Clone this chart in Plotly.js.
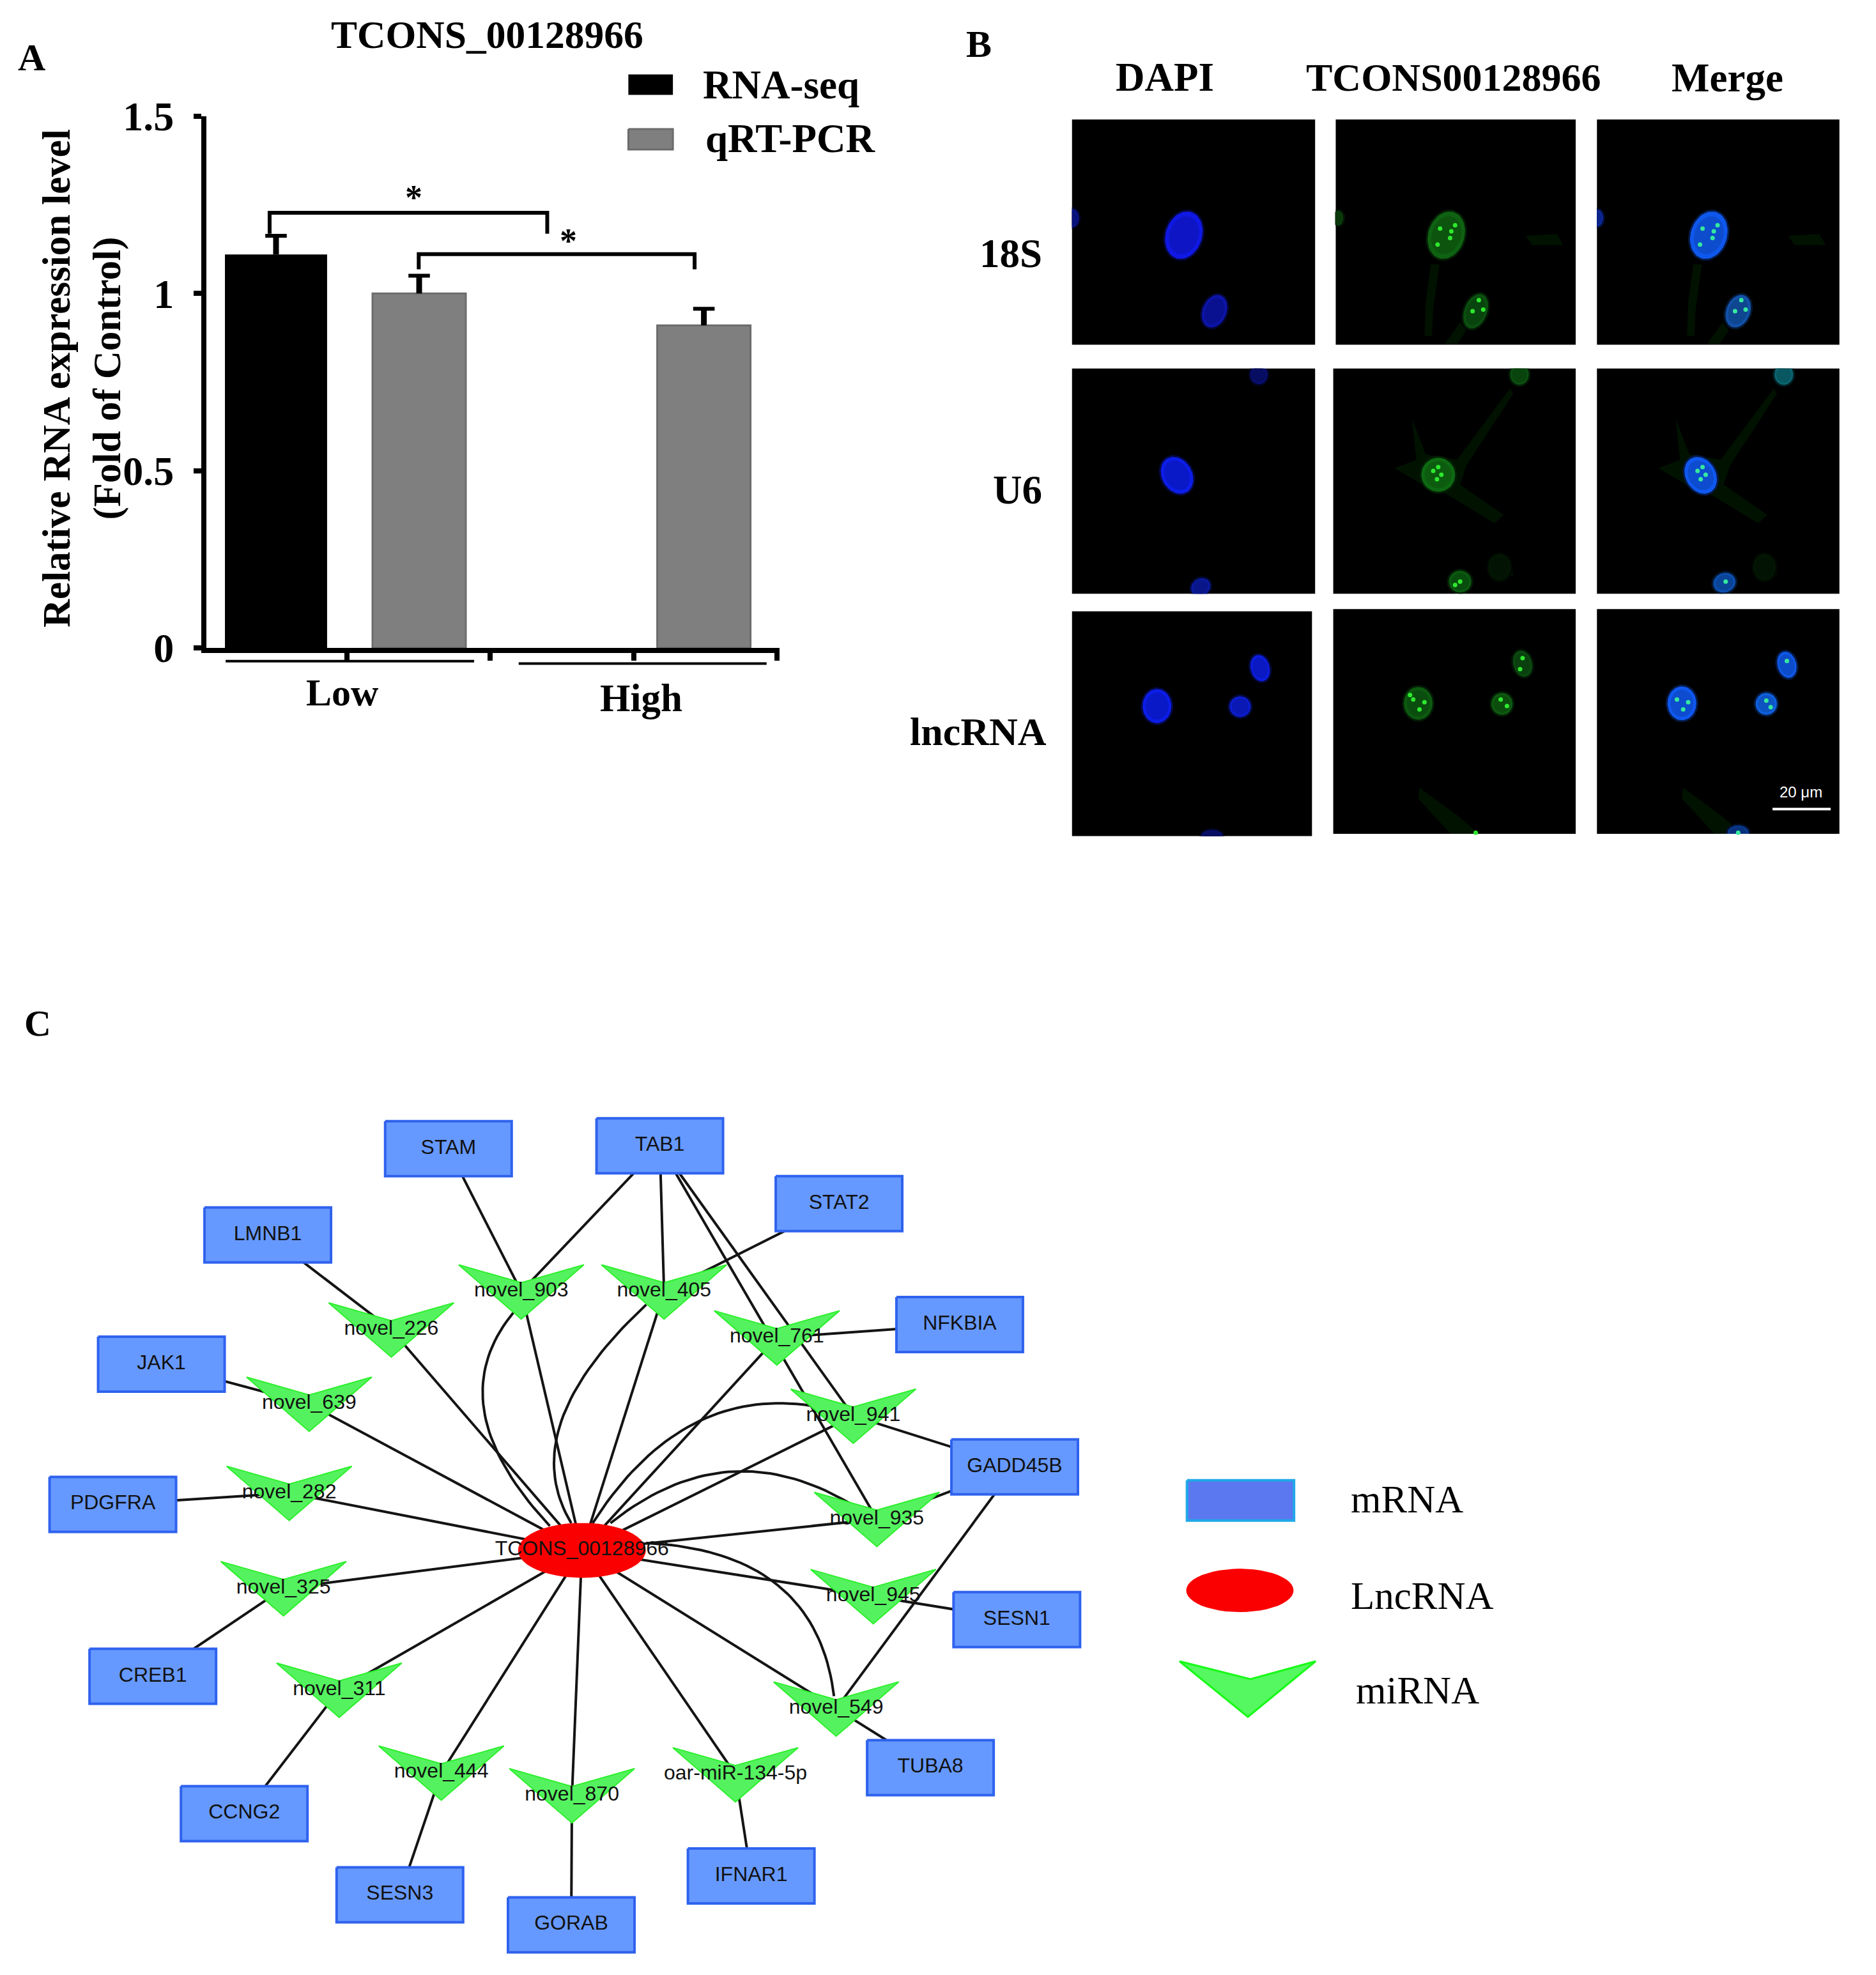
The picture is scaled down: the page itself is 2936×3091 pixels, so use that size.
<!DOCTYPE html>
<html><head><meta charset="utf-8">
<script src="https://cdn.plot.ly/plotly-3.0.1.min.js"></script>
<style>html,body{margin:0;padding:0;background:#fff}</style></head>
<body><div id="chart" style="width:2936px;height:3091px"></div>
<script>
const W=2936,H=3091;
// Panel A data
const groups=["Low","High"];
const rnaSeqValues=[1.11];
const rnaSeqErrors=[0.053];
const qpcrValues=[1.0,0.91];
const qpcrErrors=[0.05,0.047];
const yTickVals=[0,0.5,1,1.5];
const yTickText=["0","0.5","1","1.5"];
// Panel C data
const mrnaNames=["STAM","TAB1","STAT2","LMNB1","NFKBIA","JAK1","GADD45B","PDGFRA","SESN1","CREB1","TUBA8","CCNG2","IFNAR1","SESN3","GORAB"];
const mrnaX=[628,924,1175,375,1344,226,1421,158,1424,214,1303,342,1052,560,800];
const mrnaY=[110,105,207,262,420,490,671,737,940,1040,1201,1282,1392,1425,1478];
const mirnaNames=["novel_903","novel_405","novel_226","novel_761","novel_639","novel_941","novel_282","novel_935","novel_325","novel_945","novel_311","novel_549","novel_444","novel_870","oar-miR-134-5p"];
const mirnaX=[730,930,548,1088,433,1195,405,1228,397,1223,475,1171,618,801,1030];
const mirnaY=[362,362,429,443,560,581,717,763,885,899,1064,1097,1210,1250,1213];
const lncName="TCONS_00128966";
const lncX=[815],lncY=[818];
const edgeMi=["novel_226","novel_903","novel_903","novel_405","novel_405","novel_941","novel_935","novel_761","novel_639","novel_941","novel_935","novel_282","novel_945","novel_325","novel_549","novel_549","novel_311","novel_444","novel_870","oar-miR-134-5p"];
const edgeM=["LMNB1","STAM","TAB1","TAB1","STAT2","TAB1","TAB1","NFKBIA","JAK1","GADD45B","GADD45B","PDGFRA","SESN1","CREB1","GADD45B","TUBA8","CCNG2","SESN3","GORAB","IFNAR1"];
const curvedMi=["novel_903","novel_405","novel_941","novel_935","novel_549"];
const curveStartX=[770,800,830,855,905],curveStartY=[775,770,770,770,805];
const curveCtrlX=[608,720,962,1017,1143],curveCtrlY=[557,602,510,607,820];
const curveEndX=[725,905,1165,1190,1168],curveEndY=[390,385,570,735,1075];
// Panel B contents
const panels=[[284,673,217,626],[706,1090,217,626],[1124,1512,217,626],[284,673,669,1078],[702,1090,669,1078],[1124,1512,669,1078],[284,668,1110,1518],[702,1090,1106,1514],[1124,1512,1106,1514]];
const cellBodies=[
 [[858,480],[872,480],[862,560],[860,610],[848,610],[850,550]],
 [[905,585],[915,600],[900,625],[880,625]],
 [[705,385],[722,390],[716,410],[705,408]],
 [[1010,428],[1060,425],[1070,445],[1020,445]],
 [[1278,480],[1292,480],[1282,560],[1280,610],[1268,610],[1270,550]],
 [[1325,585],[1335,600],[1320,625],[1300,625]],
 [[1430,428],[1480,425],[1490,445],[1440,445]],
 [[800,850],[835,835],[828,760],[850,825],[900,835],[985,705],[990,715],[915,845],[905,880],[975,935],[960,950],[880,895],[845,880]],
 [[960,1020],[985,1010],[990,1045],[960,1050]],
 [[1222,850],[1257,835],[1250,760],[1272,825],[1322,835],[1407,705],[1412,715],[1337,845],[1327,880],[1397,935],[1382,950],[1302,895],[1267,880]],
 [[1382,1020],[1407,1010],[1412,1045],[1382,1050]],
 [[840,1430],[900,1480],[935,1514],[890,1514],[838,1450]],
 [[1262,1430],[1322,1480],[1357,1514],[1312,1514],[1260,1450]]
];
const nuclei=[
 [0,463,427,29,40,18,"#1018e4"],[0,512,565,19,28,22,"#0c14a8"],[0,284,396,11,15,0,"#0a148e"],
 [1,883,427,29,40,18,"#0f6212"],[1,930,565,18,30,22,"#0b4f10"],[1,710,396,8,12,0,"#0a400c"],
 [2,1303,427,29,40,18,"#0f58ee"],[2,1350,565,19,28,22,"#1251a8"],[2,1124,396,10,14,0,"#0d2aa0"],
 [3,452,863,24,32,-30,"#0c1de8"],[3,583,680,14,16,0,"#080f70"],[3,490,1066,16,14,-30,"#0a1aa0"],
 [4,870,862,27,28,-20,"#0e6a12"],[4,1000,680,15,17,0,"#0b4f10"],[4,905,1056,18,18,0,"#0b5a10"],[4,968,1030,18,22,0,"#031603"],
 [5,1290,863,24,32,-30,"#0f58f0"],[5,1423,680,15,17,0,"#0a6570"],[5,1328,1058,18,16,-20,"#0c4fb0"],[5,1392,1030,18,22,0,"#031603"],
 [6,420,1282,23,28,0,"#0c1de8"],[6,585,1213,15,22,-15,"#0c1de0"],[6,553,1283,17,17,0,"#0c1dd0"],[6,508,1518,17,10,0,"#080f70"],
 [7,838,1277,23,27,0,"#0d5a10"],[7,1005,1205,15,22,-15,"#0b4a10"],[7,972,1278,17,18,0,"#0e5a10"],
 [8,1260,1277,23,28,0,"#0f58f0"],[8,1428,1207,15,22,-15,"#0f58e8"],[8,1395,1278,17,18,0,"#0f60e0"],[8,1350,1512,17,12,0,"#0a3a90"]
];
const spotsGreenX=[873,897,891,889,869,935,925,942,862,870,875,868,905,897,830,840,848,825,970,980,1005,1001,930];
const spotsGreenY=[415,409,420,432,444,545,565,562,855,848,862,870,1056,1062,1270,1288,1275,1262,1270,1282,1195,1215,1512];
const spotsMergeX=[1293,1317,1311,1309,1289,1355,1345,1362,1285,1293,1298,1290,1330,1252,1262,1270,1395,1402,1428,1350];
const spotsMergeY=[415,409,420,432,444,545,565,562,855,848,862,870,1056,1270,1288,1275,1272,1284,1200,1512];

const A=(x,y)=>[.894*x,.762*y], B=(x,y)=>[1400+.978*x,.862*y], C=(x,y)=>[1.1175*x,1700+.888*y];
const traces=[];
const serif="Liberation Serif",sans="Liberation Sans";
function poly(pts,fill,line,lw){const xs=pts.map(p=>p[0]).concat(pts[0][0]),ys=pts.map(p=>p[1]).concat(pts[0][1]);
  traces.push({type:'scatter',mode:'lines',x:xs,y:ys,xaxis:'x2',yaxis:'y2',fill:'toself',fillcolor:fill,line:{color:line||fill,width:lw||0},hoverinfo:'skip',showlegend:false});}
function seg(pts,color,w){traces.push({type:'scatter',mode:'lines',x:pts.map(p=>p[0]),y:pts.map(p=>p[1]),xaxis:'x2',yaxis:'y2',line:{color:color||'#000',width:w||4},hoverinfo:'skip',showlegend:false});}
function ellipse(cx,cy,rx,ry,rot,box){const r=(rot||0)*Math.PI/180,out=[];for(let i=0;i<48;i++){const t=i/48*2*Math.PI,u=rx*Math.cos(t),v=ry*Math.sin(t);let x=cx+u*Math.cos(r)-v*Math.sin(r),y=cy+u*Math.sin(r)+v*Math.cos(r);if(box){x=Math.min(box[1],Math.max(box[0],x));y=Math.min(box[3],Math.max(box[2],y));}out.push([x,y]);}return out;}
function dim(hex,f){const n=parseInt(hex.slice(1),16);return 'rgb('+[(n>>16)&255,(n>>8)&255,n&255].map(v=>Math.round(v*f)).join(',')+')';}

// Panel A bars
const slot=[0.504,1.503,3.49];
const plusErr=(v,e)=>v.map((y,i)=>y+e[i]);
traces.push({type:'bar',name:'RNA-seq',x:[slot[0]],y:rnaSeqValues,width:0.713,marker:{color:'#000',line:{width:0}},error_y:{type:'data',symmetric:false,array:rnaSeqErrors,arrayminus:[0],color:'#000',thickness:9,width:0},showlegend:false});
traces.push({type:'bar',name:'qRT-PCR',x:[slot[1],slot[2]],y:qpcrValues,width:0.651,marker:{color:'#7f7f7f',line:{color:'#6c6c6c',width:3}},error_y:{type:'data',symmetric:false,array:qpcrErrors,arrayminus:[0,0],color:'#000',thickness:9,width:0},showlegend:false});
traces.push({type:'scatter',mode:'markers',x:slot,y:plusErr(rnaSeqValues.concat(qpcrValues),rnaSeqErrors.concat(qpcrErrors)),marker:{symbol:'line-ew',size:24,color:'#000',line:{color:'#000',width:6}},hoverinfo:'skip',showlegend:false});

// Panel A decorations
seg([A(472,480),A(472,437),A(958,437),A(958,480)],'#000',6);
seg([A(733,553),A(733,522),A(1216,522),A(1216,553)],'#000',6);
seg([A(395,1358),A(830,1358)],'#000',4);
seg([A(908,1363),A(1342,1363)],'#000',4);
poly([A(1100,153),A(1178,153),A(1178,195),A(1100,195)],'#000');
poly([A(1100,265),A(1178,265),A(1178,307),A(1100,307)],'#7f7f7f','#6c6c6c',3);

// Panel B
panels.forEach(p=>poly([B(p[0],p[2]),B(p[1],p[2]),B(p[1],p[3]),B(p[0],p[3])],'#000'));
cellBodies.forEach(c=>poly(c.map(q=>B(q[0],q[1])),'#011201'));
nuclei.forEach(n=>{const p=panels[n[0]],b0=B(p[0],p[2]),b1=B(p[1],p[3]),box=[b0[0],b1[0],b0[1],b1[1]],c=B(n[1],n[2]),rx=n[3]*.978,ry=n[4]*.862*1.1;
  poly(ellipse(c[0],c[1],rx+3,ry+3,n[5],box),dim(n[6],.3));
  poly(ellipse(c[0],c[1],rx,ry,n[5],box),n[6]);
  poly(ellipse(c[0],c[1],rx*.8,ry*.8,n[5],box),dim(n[6],.86));});
traces.push({type:'scatter',mode:'markers',x:spotsGreenX.map((v,i)=>B(v,spotsGreenY[i])[0]),y:spotsGreenX.map((v,i)=>B(v,spotsGreenY[i])[1]),xaxis:'x2',yaxis:'y2',marker:{color:'#2ee82e',size:7},hoverinfo:'skip',showlegend:false});
traces.push({type:'scatter',mode:'markers',x:spotsMergeX.map((v,i)=>B(v,spotsMergeY[i])[0]),y:spotsMergeX.map((v,i)=>B(v,spotsMergeY[i])[1]),xaxis:'x2',yaxis:'y2',marker:{color:'#35e8a0',size:7},hoverinfo:'skip',showlegend:false});
seg([B(1405,1469),B(1498,1469)],'#fff',4);

// Panel C edges
const cMi=n=>{const i=mirnaNames.indexOf(n);return C(mirnaX[i],mirnaY[i])};
const cM=n=>{const i=mrnaNames.indexOf(n);return C(mrnaX[i],mrnaY[i])};
const lnc=C(lncX[0],lncY[0]);
const edgeColor='#141414';
mirnaNames.forEach(n=>seg([lnc,cMi(n)],edgeColor,4));
edgeMi.forEach((n,i)=>seg([cMi(n),cM(edgeM[i])],edgeColor,4));
curvedMi.forEach((n,i)=>{const s=C(curveStartX[i],curveStartY[i]),q=C(curveCtrlX[i],curveCtrlY[i]),e=C(curveEndX[i],curveEndY[i]),pts=[];
  for(let k=0;k<=40;k++){const t=k/40,a=(1-t)*(1-t),b=2*t*(1-t),d=t*t;pts.push([a*s[0]+b*q[0]+d*e[0],a*s[1]+b*q[1]+d*e[1]]);}
  seg(pts,edgeColor,4);});
// nodes
const boxFill='#6699ff',boxLine='#2f62ee',chev='#55f260',chevLine='#2cf02c';
function chevron(cx,cy,hw,up,dn,notch){return [[cx-hw,cy-up],[cx,cy-notch],[cx+hw,cy-up],[cx,cy+dn]];}
mrnaNames.forEach(n=>{const c=cM(n);poly([[c[0]-99,c[1]-43],[c[0]+99,c[1]-43],[c[0]+99,c[1]+43],[c[0]-99,c[1]+43]],boxFill,boxLine,4);});
mirnaNames.forEach(n=>{const c=cMi(n);poly(chevron(c[0],c[1],98,42,43,14),chev,chevLine,2);});
poly(ellipse(lnc[0],lnc[1],100,43,0),'#fb0000');
const labelFont={family:sans,size:32,color:'#111'};
traces.push({type:'scatter',mode:'text',x:mrnaNames.map(n=>cM(n)[0]),y:mrnaNames.map(n=>cM(n)[1]),text:mrnaNames,textposition:'middle center',textfont:labelFont,xaxis:'x2',yaxis:'y2',hoverinfo:'skip',showlegend:false});
traces.push({type:'scatter',mode:'text',x:mirnaNames.map(n=>cMi(n)[0]),y:mirnaNames.map(n=>cMi(n)[1]),text:mirnaNames,textposition:'middle center',textfont:labelFont,xaxis:'x2',yaxis:'y2',hoverinfo:'skip',showlegend:false});
traces.push({type:'scatter',mode:'text',x:[lnc[0]],y:[lnc[1]],text:[lncName],textposition:'middle center',textfont:labelFont,xaxis:'x2',yaxis:'y2',hoverinfo:'skip',showlegend:false});
// Panel C legend
const s=1.97;
poly([[943*s,1176*s],[1028*s,1176*s],[1028*s,1208*s],[943*s,1208*s]],'#5b78f0','#1fa8e8',4);
poly(ellipse(985*s,1263.5*s,84,34,0),'#fb0000');
poly([[1846,2600],[1957,2628],[2059,2600],[1953,2687]],'#55f860','#18fa18',3);

// Text
function ann(xy,text,size,bold,anchor,color,family){return {x:xy[0],y:xy[1],xref:'x2',yref:'y2',text:bold?'<b>'+text+'</b>':text,showarrow:false,xanchor:anchor||'center',yanchor:'middle',font:{family:family||serif,size:size,color:color||'#000'}};}
const annotations=[
 ann(A(55,118),'A',60,true),
 ann(A(853,71),'TCONS_00128966',61.5,true),
 ann(A(1228,175),'RNA-seq',63,true,'left'),
 ann(A(1233,285),'qRT-PCR',63,true,'left'),
 ann(A(724,405),'*',54,true),
 ann(A(995,495),'*',54,true),
 ann(A(600,1422),groups[0],60,true),
 ann(A(1122,1434),groups[1],61,true),
 ann(B(135,80),'B',60,true),
 ann(B(432,140),'DAPI',63,true),
 ann(B(895,140),'TCONS00128966',62,true),
 ann(B(1333,142),'Merge',63,true),
 ann(B(238,460),'18S',63,true,'right'),
 ann(B(238,890),'U6',63,true,'right'),
 ann(B(245,1328),'lncRNA',62,true,'right'),
 ann(B(1450,1438),'20 μm',24,false,'center','#fff',sans),
 ann([30*s,813*s],'C',58,true),
 ann([1072*s,1191*s],'mRNA',61,false,'left'),
 ann([1072*s,1268*s],'LncRNA',61,false,'left'),
 ann([1076*s,1343*s],'miRNA',61,false,'left'),
 Object.assign(ann([128,592],'Relative RNA expression level<br>(Fold of Control)',61,true),{textangle:-90})
];
const layout={width:W,height:H,margin:{l:0,r:0,t:0,b:0},paper_bgcolor:'#fff',plot_bgcolor:'rgba(0,0,0,0)',showlegend:false,barmode:'overlay',
 xaxis:{domain:[323/W,1220/W],range:[0.018,4.018],tickvals:[0,1,2,3,4],ticktext:['','','','',''],ticks:'outside',ticklen:12,tickwidth:8,tickcolor:'#000',showline:true,linecolor:'#000',linewidth:8,showgrid:false,zeroline:false,fixedrange:true},
 yaxis:{domain:[1-1014/H,1-182/H],range:[0,1.5],tickvals:yTickVals,ticktext:yTickText,ticks:'outside',ticklen:12,tickwidth:8,tickcolor:'#000',tickfont:{family:serif,size:64,color:'#000',weight:700},ticklabelstandoff:18,showline:true,linecolor:'#000',linewidth:8,showgrid:false,zeroline:false,fixedrange:true},
 xaxis2:{domain:[0,1],range:[0,W],visible:false,anchor:'y2',fixedrange:true},
 yaxis2:{domain:[0,1],range:[H,0],visible:false,anchor:'x2',fixedrange:true},
 annotations};
Plotly.newPlot('chart',traces,layout,{displayModeBar:false,staticPlot:true});
</script></body></html>
